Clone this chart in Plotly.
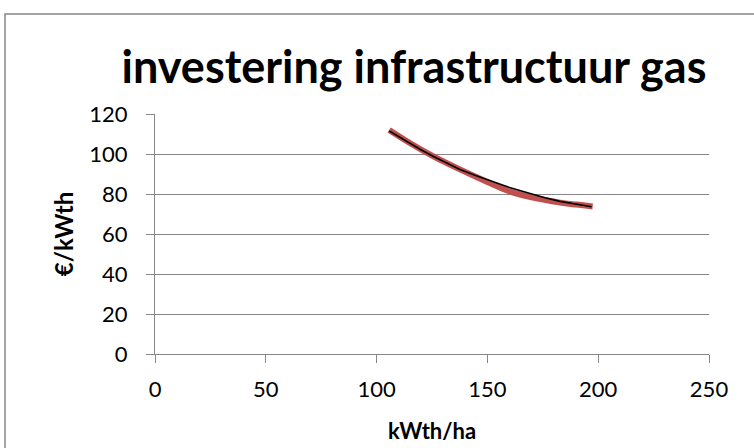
import plotly.graph_objects as go

# data
data_x = [105.7, 110, 115, 120, 125, 130, 137.6, 145, 150, 155, 160, 165, 170, 176, 182.8, 190, 197]
data_y = [111.5, 108.6, 105.3, 102.1, 99.1, 96.3, 92.3, 89.1, 87.1, 85.1, 83.3, 81.6, 80.0, 78.1, 76.3, 75.0, 73.6]

trend_x = [105.7, 115, 125, 137.6, 150, 160, 170, 182.8, 190, 197.5]
trend_y = [112.0, 105.5, 99.2, 92.3, 86.0, 81.3, 78.3, 75.7, 74.7, 73.8]

x_ticks = [0, 50, 100, 150, 200, 250]
y_ticks = [0, 20, 40, 60, 80, 100, 120]

title_text = "investering infrastructuur gas"
x_title = "kWth/ha"
y_title = "€/kWth"

FONT = "Lato"
GRID = "#878787"

fig = go.Figure()
fig.add_trace(go.Scatter(x=trend_x, y=trend_y, mode="lines",
                         line=dict(color="#C0504D", width=6, shape="spline"),
                         showlegend=False, hoverinfo="skip"))
fig.add_trace(go.Scatter(x=data_x, y=data_y, mode="lines",
                         line=dict(color="#000000", width=1.6),
                         showlegend=False))

L, R, T, B = 155, 45, 114, 94
W, H = 754, 448
pw, ph = W - L - R, H - T - B

def px(v):
    return (v - L) / pw

def py(v):
    return (H - B - v) / ph

fig.add_shape(type="rect", xref="paper", yref="paper",
              x0=px(5), x1=px(770), y0=py(465), y1=py(14),
              line=dict(color="#868686", width=1.5), fillcolor="rgba(0,0,0,0)", layer="below")

fig.update_layout(
    width=W, height=H,
    margin=dict(l=L, r=R, t=T, b=B, autoexpand=False),
    paper_bgcolor="white", plot_bgcolor="white",
    title=dict(text="<b>" + title_text + "</b>", x=(414 / W), xref="container", xanchor="center",
               y=1 - 67 / H, yanchor="middle",
               font=dict(family=FONT, size=45, color="black")),
    font=dict(family=FONT, color="black"),
    xaxis=dict(range=[0, 250], tickvals=x_ticks, showgrid=False, automargin=False,
               showline=True, linecolor=GRID, linewidth=1,
               ticks="outside", ticklen=8, tickcolor=GRID,
               tickfont=dict(size=22, family=FONT), ticklabelstandoff=8,
               title=dict(text="<b>" + x_title + "</b>", font=dict(size=22, family=FONT), standoff=22),
               zeroline=False),
    yaxis=dict(range=[0, 120], tickvals=y_ticks, showgrid=True, gridcolor=GRID, gridwidth=1,
               automargin=False,
               showline=True, linecolor=GRID, linewidth=1,
               ticks="outside", ticklen=8, tickcolor=GRID,
               tickfont=dict(size=22, family=FONT), ticklabelstandoff=14,
               title=dict(text="<b>" + y_title + "</b>", font=dict(size=24, family=FONT), standoff=8),
               zeroline=False),
)

fig.write_html("out.html")
